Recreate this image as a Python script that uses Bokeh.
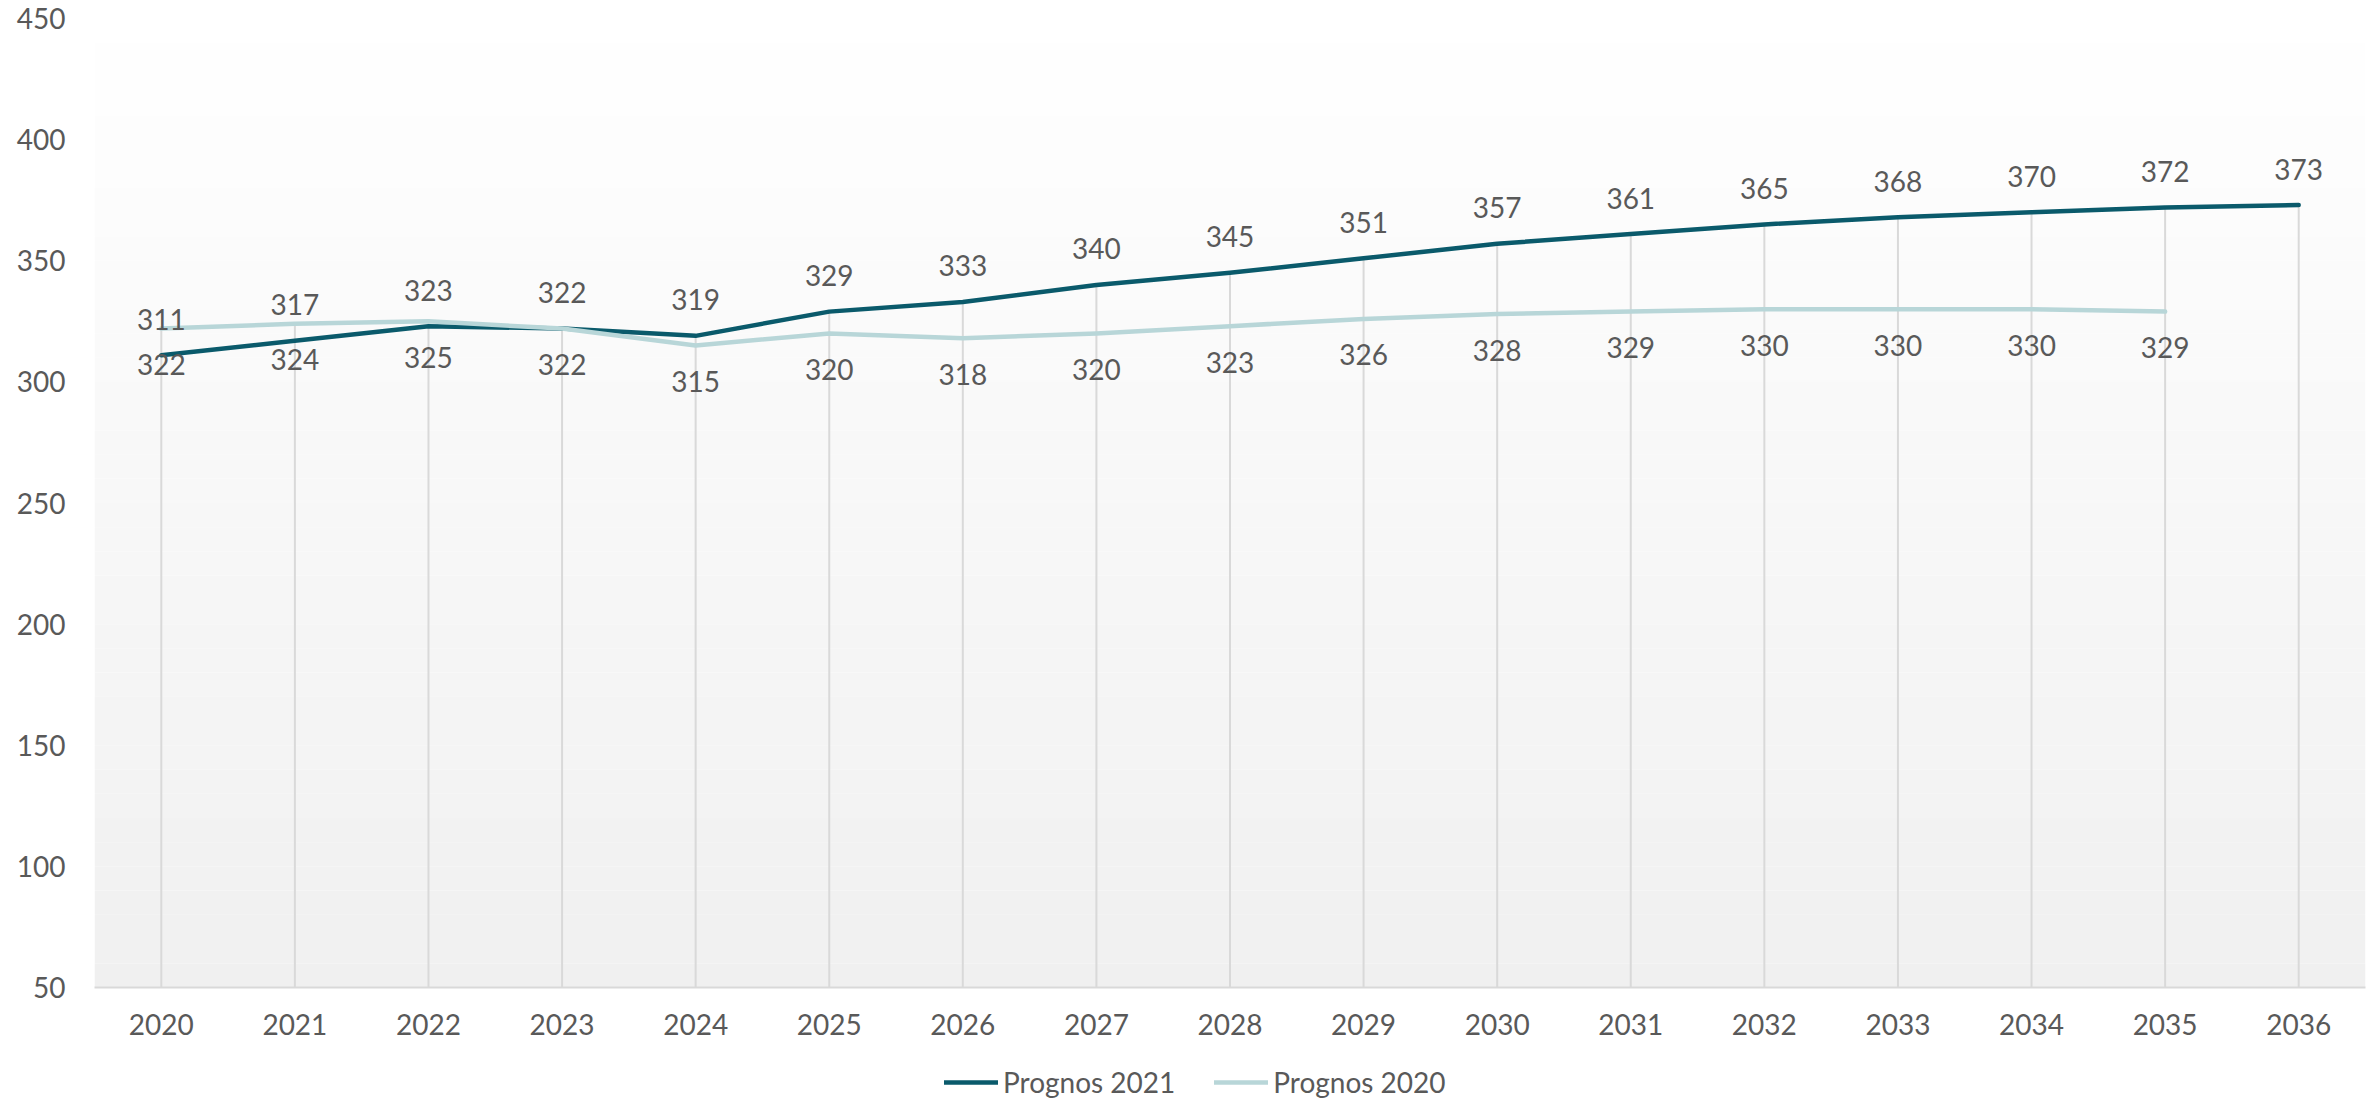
from bokeh.plotting import figure
from bokeh.layouts import column
from bokeh.models import (Range1d, FixedTicker, LabelSet, ColumnDataSource, Legend,
                          LegendItem, BoxAnnotation)
from bokeh.core.properties import value
from bokeh.embed import file_html
from bokeh.resources import INLINE

# ---- data ----
years = list(range(2020, 2037))
prognos_2021 = [311, 317, 323, 322, 319, 329, 333, 340, 345, 351, 357, 361, 365, 368, 370, 372, 373]
years_2020 = list(range(2020, 2036))
prognos_2020 = [322, 324, 325, 322, 315, 320, 318, 320, 323, 326, 328, 329, 330, 330, 330, 329]
y_ticks = [50, 100, 150, 200, 250, 300, 350, 400, 450]
series_names = ["Prognos 2021", "Prognos 2020"]

DARK = "#0a5a6b"
LIGHT = "#b8d6d8"
GRID = "#d9d9d9"
TXT = "#595959"
FONT = "Lato"
FS = "28px"

p = figure(width=2377, height=1056, output_backend="svg", toolbar_location=None,
           x_range=Range1d(2019.5, 2036.5), y_range=Range1d(y_ticks[0], y_ticks[-1]),
           min_border_left=94, min_border_right=12, min_border_top=18, min_border_bottom=69)
p.outline_line_color = None
p.background_fill_color = "white"
p.border_fill_color = "white"
p.xgrid.visible = False
p.ygrid.visible = False

# gradient background (decorative)
nb = 40
lo, hi = y_ticks[0], y_ticks[-1]
for i in range(nb):
    b = lo + (hi - lo) * i / nb
    t = lo + (hi - lo) * (i + 1) / nb
    frac = (i + 0.5) / nb
    g = int(round(240 + 15 * frac))
    p.add_layout(BoxAnnotation(bottom=b, top=t, fill_color=f"#{g:02x}{g:02x}{g:02x}",
                               fill_alpha=1.0, line_color=None, level="underlay"))

# drop lines
tops = []
for i, yr in enumerate(years):
    v = [prognos_2021[i]]
    if yr in years_2020:
        v.append(prognos_2020[years_2020.index(yr)])
    tops.append(max(v))
p.segment(x0=years, y0=[y_ticks[0]] * len(years), x1=years, y1=tops,
          line_color=GRID, line_width=2)

p.line(years, prognos_2021, line_color=DARK, line_width=4.5, line_cap="round", line_join="round")
p.line(years_2020, prognos_2020, line_color=LIGHT, line_width=4.5, line_cap="round", line_join="round")

s21 = ColumnDataSource(dict(x=years, y=prognos_2021, t=[str(v) for v in prognos_2021]))
s20 = ColumnDataSource(dict(x=years_2020, y=prognos_2020, t=[str(v) for v in prognos_2020]))
p.add_layout(LabelSet(x="x", y="y", text="t", source=s21, y_offset=36, text_align="center",
                      text_baseline="middle", text_font=value(FONT), text_font_size=value(FS),
                      text_color=TXT))
p.add_layout(LabelSet(x="x", y="y", text="t", source=s20, y_offset=-36, text_align="center",
                      text_baseline="middle", text_font=value(FONT), text_font_size=value(FS),
                      text_color=TXT))

# axes
p.xaxis.ticker = FixedTicker(ticks=years)
p.xaxis.axis_line_color = GRID
p.xaxis.axis_line_width = 2
p.xaxis.major_tick_line_color = None
p.xaxis.minor_tick_line_color = None
p.xaxis.major_tick_out = 0
p.xaxis.major_label_standoff = 26
p.xaxis.major_label_text_font = FONT
p.xaxis.major_label_text_font_size = FS
p.xaxis.major_label_text_color = TXT

p.yaxis.ticker = FixedTicker(ticks=y_ticks)
p.yaxis.axis_line_color = None
p.yaxis.major_tick_line_color = None
p.yaxis.minor_tick_line_color = None
p.yaxis.major_tick_out = 0
p.yaxis.major_label_standoff = 29
p.yaxis.major_label_text_font = FONT
p.yaxis.major_label_text_font_size = FS
p.yaxis.major_label_text_color = TXT

# legend strip below the chart (dummy renderers sit outside the visible range)
lf = figure(width=2377, height=45, output_backend="svg", toolbar_location=None,
            x_axis_type=None, y_axis_type=None, x_range=Range1d(0, 1), y_range=Range1d(0, 1),
            min_border_left=0, min_border_right=0, min_border_top=0, min_border_bottom=0)
lf.outline_line_color = None
lf.xgrid.visible = False
lf.ygrid.visible = False
l21 = lf.line(x=[-10, -9], y=[-10, -10], line_color=DARK, line_width=4.5, line_cap="round")
l20 = lf.line(x=[-10, -9], y=[-10, -10], line_color=LIGHT, line_width=4.5, line_cap="round")
legend = Legend(items=[LegendItem(label=series_names[0], renderers=[l21]),
                       LegendItem(label=series_names[1], renderers=[l20])],
                orientation="horizontal", location=(850, 2),
                label_text_font=FONT, label_text_font_size=FS, label_text_color=TXT,
                glyph_width=54, glyph_height=20, label_standoff=5, spacing=39,
                padding=0, margin=0, border_line_color=None, background_fill_alpha=0)
lf.add_layout(legend, "center")

open("out.html", "w").write(file_html(column(p, lf, spacing=0), INLINE))
